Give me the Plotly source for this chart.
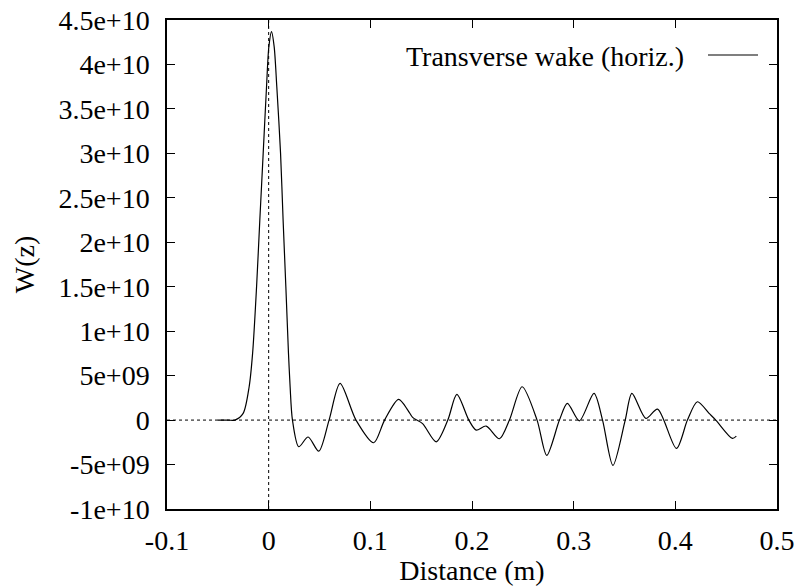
import plotly.graph_objects as go

# Distance (m)
distance = [-0.05, -0.04, -0.0332, -0.0251, -0.0192, -0.0158, -0.0119, -0.0087, -0.0054, -0.0021,
            0.0002, 0.0028, 0.0054, 0.0080, 0.0117, 0.0142, 0.0169, 0.0195, 0.0211, 0.0234,
            0.0296, 0.0388, 0.0493, 0.0594, 0.0702, 0.0859, 0.1033, 0.114, 0.1278, 0.137,
            0.1416, 0.1514, 0.1648, 0.1762, 0.1851, 0.1969, 0.2041, 0.2139, 0.227, 0.2368,
            0.2493, 0.264, 0.2735, 0.286, 0.2938, 0.3056, 0.32, 0.3284, 0.3386, 0.3507,
            0.3573, 0.371, 0.3825, 0.4011, 0.4119, 0.4217, 0.4332, 0.4398, 0.4561, 0.46]
# W(z)
wake = [0, 0, 0, 0.75e9, 3.75e9, 7.5e9, 15e9, 22.5e9, 30e9, 37.5e9,
        42e9, 43.7e9, 42e9, 37.5e9, 30e9, 22.5e9, 15e9, 7.5e9, 3.75e9, 0,
        -3.0e9, -1.9e9, -3.5e9, 0, 4.13e9, 0, -2.55e9, 0, 2.32e9, 1.1e9,
        0.3e9, -0.4e9, -2.44e9, 0, 2.89e9, 0, -1.12e9, -0.67e9, -2.1e9, 0,
        3.75e9, 0, -3.97e9, 0, 1.88e9, -0.08e9, 3.0e9, 0, -5.1e9, 0,
        3.0e9, 0.19e9, 1.24e9, -3.19e9, 0, 2.06e9, 0.75e9, 0, -2.06e9, -1.8e9]

x_ticks = [-0.1, 0, 0.1, 0.2, 0.3, 0.4, 0.5]
x_ticktext = ["-0.1", "0", "0.1", "0.2", "0.3", "0.4", "0.5"]
y_ticks = [-1e10, -5e9, 0, 5e9, 1e10, 1.5e10, 2e10, 2.5e10, 3e10, 3.5e10, 4e10, 4.5e10]
y_ticktext = ["-1e+10", "-5e+09", "0", "5e+09", "1e+10", "1.5e+10", "2e+10", "2.5e+10",
              "3e+10", "3.5e+10", "4e+10", "4.5e+10"]
legend_label = "Transverse wake (horiz.)"

FONT = "Liberation Serif, Times New Roman, serif"
FS = 28

fig = go.Figure()
fig.add_trace(go.Scatter(x=distance, y=wake, mode="lines",
                         line=dict(color="black", width=1.2, shape="spline", smoothing=0.8),
                         name=legend_label, showlegend=False))

axis_common = dict(showgrid=False, zeroline=False, showline=True, linecolor="black",
                   linewidth=1.5, mirror="ticks", ticks="inside", ticklen=8,
                   tickcolor="black", tickwidth=1, ticklabeloverflow="allow",
                   automargin=False,
                   tickfont=dict(family=FONT, size=FS, color="black"))

fig.update_layout(
    width=800, height=586,
    margin=dict(l=167, r=23, t=20, b=77),
    paper_bgcolor="white", plot_bgcolor="white",
    font=dict(family=FONT, size=FS, color="black"),
    xaxis=dict(range=[-0.1, 0.5], tickvals=x_ticks, ticktext=x_ticktext,
               title=dict(text="Distance (m)", standoff=0,
                          font=dict(family=FONT, size=FS)),
               ticklabelstandoff=6,
               **axis_common),
    yaxis=dict(range=[-1e10, 4.5e10], tickvals=y_ticks, ticktext=y_ticktext,
               title=dict(text="W(z)", standoff=16,
                          font=dict(family=FONT, size=FS)),
               ticklabelstandoff=10,
               **axis_common),
)

# dotted zero axes
fig.add_shape(type="line", xref="x", yref="y", x0=-0.1, x1=0.5, y0=0, y1=0,
              line=dict(color="black", width=1, dash="dot"), layer="below")
fig.add_shape(type="line", xref="x", yref="y", x0=0, x1=0, y0=-1e10, y1=4.5e10,
              line=dict(color="black", width=1, dash="dot"), layer="below")

# legend (text left of sample line, gnuplot style)
fig.add_annotation(xref="paper", yref="paper", x=(686 - 167) / 610, y=(509 - 57) / 489,
                   text=legend_label, showarrow=False, xanchor="right", yanchor="middle",
                   font=dict(family=FONT, size=FS, color="black"))
fig.add_shape(type="line", xref="paper", yref="paper",
              x0=(708 - 167) / 610, x1=(758 - 167) / 610,
              y0=(509 - 55) / 489, y1=(509 - 55) / 489,
              line=dict(color="black", width=1.2))

# remove the page's default body margin so the figure fills the window exactly
fig.write_html("out.html", config={"displayModeBar": False},
               post_script="document.body.style.margin='0';")
